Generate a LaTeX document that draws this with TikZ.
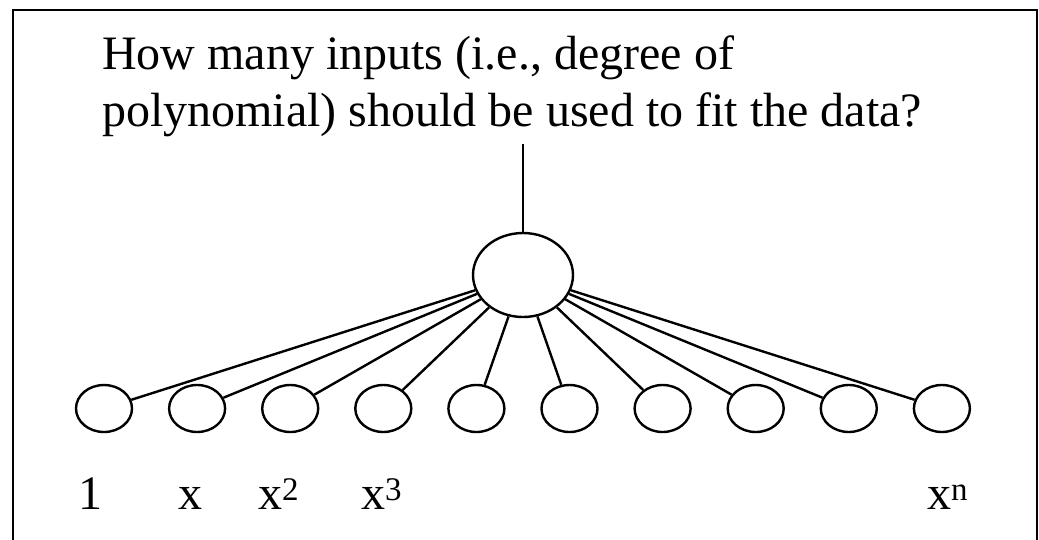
\documentclass[tikz,border=0pt]{standalone}
\usepackage{fontspec}
\setmainfont{Liberation Serif}
\usetikzlibrary{shapes.geometric}
\newcommand{\supr}[1]{\raisebox{9pt}{\fontsize{33}{33}\selectfont #1}}
\begin{document}
\begin{tikzpicture}[x=1pt,y=-1pt,
  unit/.style={draw,ellipse,line width=2.4pt,minimum width=56pt,minimum height=47pt,inner sep=0pt},
  hub/.style={draw,ellipse,line width=2.4pt,minimum width=100pt,minimum height=84pt,inner sep=0pt},
  wire/.style={line width=2.4pt},
  txt/.style={font=\fontsize{48}{57}\selectfont,inner sep=0pt,anchor=base west}]
\useasboundingbox (0,0) rectangle (1039,539);
\draw[line width=2.6pt] (13,10) rectangle (1037,570);
\node[txt,align=left] (q) at (102,126) {How many inputs (i.e., degree of\\polynomial) should be used to fit the data?};
\node[hub] (h) at (523,275) {};
\coordinate (top) at (523,144);
\draw[wire] (top) -- (h.north);
\foreach \i in {0,...,9} {
  \node[unit] (u\i) at (104+93.1*\i,408.5) {};
  \draw[wire] (h) -- (u\i);
}
\node[txt] (l1) at (78,509) {1};
\node[txt] (lx) at (178,509) {x};
\node[txt] (lx2) at (258,509) {x\supr{2}};
\node[txt] (lx3) at (361,509) {x\supr{3}};
\node[txt] (lxn) at (927,509) {x\supr{n}};
\end{tikzpicture}
\end{document}
